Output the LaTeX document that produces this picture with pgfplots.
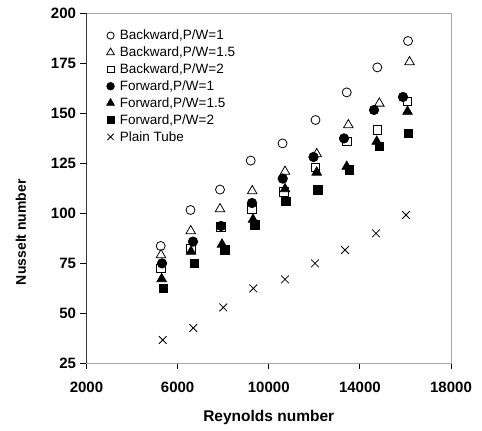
\documentclass[border=0pt]{standalone}
\usepackage{fontspec}
\setmainfont{Liberation Sans}
\usepackage{pgfplots}
\pgfplotsset{compat=1.18}

\begin{document}
\begin{tikzpicture}
\begin{axis}[
  at={(0,0)}, anchor=south west,
  scale only axis, width=364.5pt, height=350pt,
  xmin=2000, xmax=18000, ymin=25, ymax=200,
  xtick={2000,6000,10000,14000,18000},
  ytick={25,50,...,200},
  xtick pos=left, ytick pos=left, tick align=outside,
  major tick length=6pt,
  major tick style={black, line width=0.8pt},
  axis line style={gray!70, line width=0.8pt},
  scaled ticks=false,
  /pgf/number format/assume math mode=true,
  /pgf/number format/1000 sep={},
  tick label style={font=\fontsize{15}{17}\selectfont\bfseries},
  xticklabel style={yshift=-9pt},
  yticklabel style={xshift=-1pt},
  xlabel={Reynolds number},
  ylabel={Nusselt number},
  xlabel style={font=\fontsize{15.5}{17}\selectfont\bfseries, at={(axis description cs:0.5,-0.155)}, anchor=center},
  ylabel style={font=\fontsize{14}{16}\selectfont\bfseries, at={(axis description cs:-0.18,0.374)}, anchor=center, rotate=0},
  legend style={draw=none, fill=none, at={(axis description cs:0.055,0.955)}, anchor=north west,
    font=\fontsize{13.5}{15}\selectfont, row sep=3.6pt, inner sep=0pt,
    nodes={inner xsep=5.5pt, inner ysep=1pt}},
  legend cell align=left,
  legend image code/.code={\draw[mark repeat=2,mark phase=2,#1,every mark/.append style={scale=0.8}] plot coordinates {(0cm,0cm)(0.12cm,0cm)(0.24cm,0cm)};},
  every axis plot/.append style={only marks, line width=0.8pt, black},
]
% Backward, P/W=1
\addplot[mark=o, mark size=4.5pt] coordinates {
(5257,83.5) (6566,101.5) (7861,111.7) (9208,126.2) (10604,134.8)
(12053,146.5) (13423,160.3) (14766,172.8) (16114,186.0)};
% Backward, P/W=1.5
\addplot[mark=triangle, mark size=5.5pt] coordinates {
(5270,79.0) (6575,91.0) (7861,102.0) (9274,111.0) (10714,120.7)
(12106,129.5) (13493,144.0) (14854,154.8) (16180,175.5)};
% Backward, P/W=2
\addplot[mark=square, mark size=4.2pt] coordinates {
(5270,72.3) (6588,82.3) (7905,93.0) (9265,102.0) (10670,110.5)
(12053,122.7) (13423,135.7) (14766,141.5) (16092,155.7)};
% Forward, P/W=1
\addplot[mark=*, mark size=4.7pt] coordinates {
(5315,74.8) (6675,85.7) (7905,93.5) (9265,105.0) (10613,117.2)
(11965,128.0) (13304,137.3) (14621,151.5) (15894,158.0)};
% Forward, P/W=1.5
\addplot[mark=triangle*, mark size=5.5pt] coordinates {
(5300,67.0) (6588,80.7) (7948,84.3) (9309,96.7) (10714,112.0)
(12106,120.3) (13423,123.2) (14740,135.7) (16092,150.7)};
% Forward, P/W=2
\addplot[mark=square*, mark size=4.2pt] coordinates {
(5370,62.3) (6732,74.8) (8080,81.5) (9397,94.0) (10758,105.7)
(12163,111.5) (13537,121.5) (14854,133.2) (16136,139.8)};
% Plain tube
\addplot[mark=x, mark size=5.5pt] coordinates {
(5345,36.5) (6688,42.5) (8005,52.8) (9322,62.3) (10714,66.8)
(12031,74.8) (13348,81.5) (14709,89.8) (16026,99.0)};
\legend{Backward{,}P/W=1, Backward{,}P/W=1.5, Backward{,}P/W=2,
  Forward{,}P/W=1, Forward{,}P/W=1.5, Forward{,}P/W=2, Plain Tube}
\draw[black, line width=0.8pt] (rel axis cs:0,1) -- (rel axis cs:0,0) -- (rel axis cs:1,0);
\end{axis}
\pgfresetboundingbox
\path[use as bounding box] (-86.5pt,-68pt) rectangle (395.5pt,363pt);
\end{tikzpicture}
\end{document}
